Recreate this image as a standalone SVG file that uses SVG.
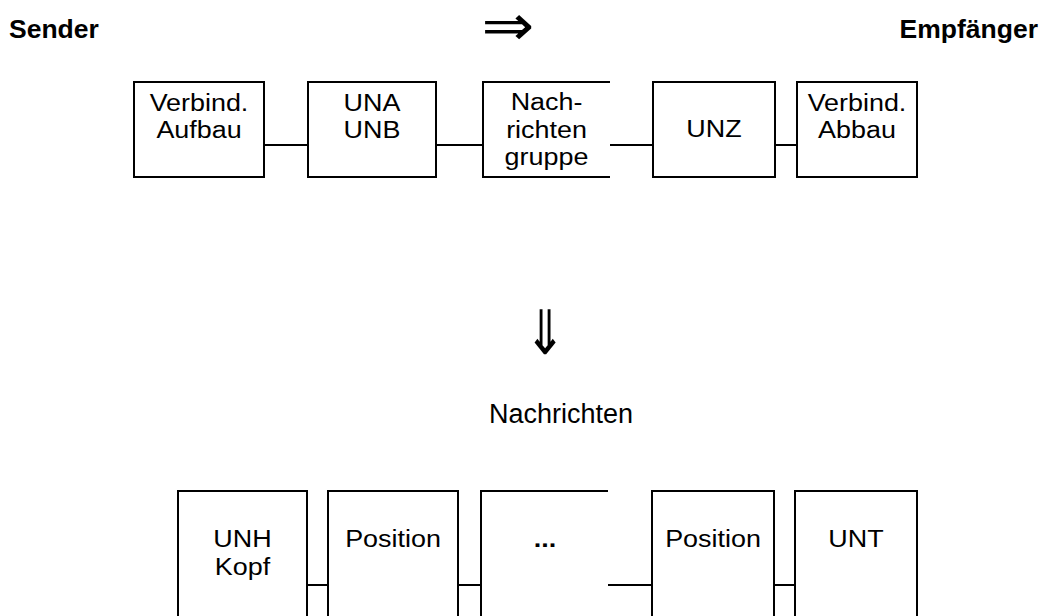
<svg xmlns="http://www.w3.org/2000/svg" width="1042" height="616" viewBox="0 0 1042 616">
<style>
.b{fill:none;stroke:#000;stroke-width:2}
.t{font-family:"Liberation Sans",Arial,sans-serif;font-size:23px;fill:#000;text-anchor:middle}
.h{font-family:"Liberation Sans",Arial,sans-serif;font-size:26.5px;font-weight:bold;fill:#000}
.l{font-family:"Liberation Sans",Arial,sans-serif;font-size:27px;fill:#000;text-anchor:middle}
.a{font-family:"DejaVu Sans",sans-serif;fill:#000;text-anchor:middle}
</style>
<rect width="1042" height="616" fill="#fff"/>
<g id="header">
<text class="h" x="9" y="38">Sender</text>
<text class="h" x="1038" y="38" text-anchor="end">Empfänger</text>
<text class="a" transform="translate(508 45.4) scale(1 0.9)" x="0" y="0" font-size="63">⇒</text>
</g>
<g id="connectors" class="b">
<line x1="264" y1="145" x2="308" y2="145"/>
<line x1="436" y1="145" x2="483" y2="145"/>
<line x1="610" y1="145" x2="653" y2="145"/>
<line x1="775" y1="145" x2="797" y2="145"/>
<line x1="307" y1="585" x2="328" y2="585"/>
<line x1="458" y1="585" x2="481" y2="585"/>
<line x1="608" y1="585" x2="652" y2="585"/>
<line x1="774" y1="585" x2="795" y2="585"/>
</g>
<g id="n1"><rect class="b" x="134" y="82" width="130" height="95"/>
<text class="t" transform="translate(199 0) scale(1.17 1)"><tspan x="0" y="111">Verbind.</tspan><tspan x="0" y="138">Aufbau</tspan></text></g>
<g id="n2"><rect class="b" x="308" y="82" width="128" height="95"/>
<text class="t" transform="translate(372 0) scale(1.17 1)"><tspan x="0" y="111">UNA</tspan><tspan x="0" y="138">UNB</tspan></text></g>
<g id="n3"><path class="b" d="M610 82H483V177H610"/>
<text class="t" transform="translate(546.5 0) scale(1.17 1)"><tspan x="0" y="110">Nach-</tspan><tspan x="0" y="138">richten</tspan><tspan x="0" y="165">gruppe</tspan></text></g>
<g id="n4"><rect class="b" x="653" y="82" width="122" height="95"/>
<text class="t" transform="translate(714 0) scale(1.17 1)" y="137">UNZ</text></g>
<g id="n5"><rect class="b" x="797" y="82" width="120" height="95"/>
<text class="t" transform="translate(857 0) scale(1.17 1)"><tspan x="0" y="111">Verbind.</tspan><tspan x="0" y="138">Abbau</tspan></text></g>
<g id="down">
<text class="a" transform="translate(545 353.6) scale(1 1.25)" x="0" y="0" font-size="49">⇓</text>
<text class="l" x="561" y="423">Nachrichten</text>
</g>
<g id="m1"><path class="b" d="M178 630V491H307V630"/>
<text class="t" transform="translate(242.5 0) scale(1.17 1)"><tspan x="0" y="547">UNH</tspan><tspan x="0" y="575">Kopf</tspan></text></g>
<g id="m2"><path class="b" d="M328 630V491H458V630"/>
<text class="t" transform="translate(393 0) scale(1.17 1)" y="547">Position</text></g>
<g id="m3"><path class="b" d="M481 630V491H608"/>
<text class="t" transform="translate(545 0) scale(1.17 1)" y="547" font-weight="bold">...</text></g>
<g id="m4"><path class="b" d="M652 630V491H774V630"/>
<text class="t" transform="translate(713 0) scale(1.17 1)" y="547">Position</text></g>
<g id="m5"><path class="b" d="M795 630V491H917V630"/>
<text class="t" transform="translate(856 0) scale(1.17 1)" y="547">UNT</text></g>
</svg>
